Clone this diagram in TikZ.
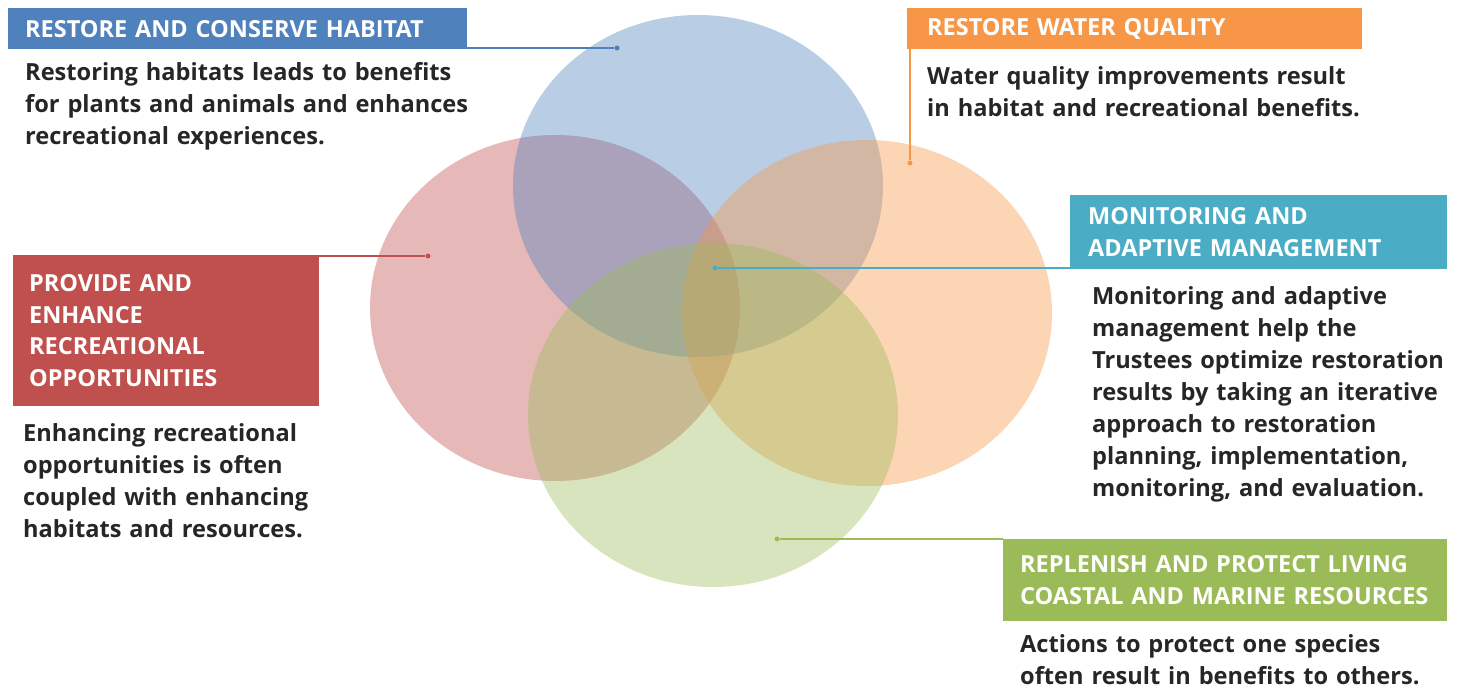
\documentclass[tikz,border=0pt]{standalone}
\usepackage{fontspec}
\setmainfont{Open Sans}
\definecolor{hblue}{HTML}{4F81BD}
\definecolor{hred}{HTML}{C0504D}
\definecolor{horange}{HTML}{F79646}
\definecolor{hgreen}{HTML}{9BBB59}
\definecolor{hteal}{HTML}{4BACC6}
\definecolor{textgray}{HTML}{262626}

\begin{document}
\begin{tikzpicture}[x=1pt,y=-1pt,
    hdr/.style={anchor=north west,fill=#1,text=white,align=left,inner ysep=0pt,
      font=\bfseries\fontsize{23.5}{31.5}\selectfont},
    txt/.style={anchor=base west,inner sep=0pt,text=textgray,align=left,text width=480pt,
      font=\bfseries\fontsize{23.6}{32}\selectfont},
    dot/.style={circle,fill=#1,inner sep=0pt,minimum size=5pt},
    blob/.style={fill=#1,fill opacity=0.4},
    link/.style={draw=#1,line width=1.4pt}]
    \useasboundingbox (0,0) rectangle (1465,687);

    % the four circles
    \fill[blob=hred] (555,308) ellipse (185 and 173);
    \fill[blob=hblue] (698,186) ellipse (185 and 171);
    \fill[blob=horange] (867,313) ellipse (185 and 173);
    \fill[blob=hgreen] (713,415) ellipse (185 and 172);

    % headings
    \node[hdr=hblue,text width=425pt,inner xsep=17pt,minimum height=41pt] (habitat) at (8,8) {RESTORE AND CONSERVE HABITAT};
    \node[hdr=horange,text width=415pt,inner xsep=20pt,minimum height=41pt] (water) at (907,8) {RESTORE WATER QUALITY};
    \node[hdr=hteal,text width=341pt,inner xsep=18pt,minimum height=74pt] (monitor) at (1070,195) {MONITORING AND\\ ADAPTIVE MANAGEMENT};
    \node[hdr=hred,text width=274pt,inner xsep=16pt,minimum height=151pt] (recreate) at (13,255) {PROVIDE AND\\ ENHANCE\\ RECREATIONAL\\ OPPORTUNITIES};
    \node[hdr=hgreen,text width=410pt,inner xsep=17pt,minimum height=82pt] (living) at (1003,539) {REPLENISH AND PROTECT LIVING\\ COASTAL AND MARINE RESOURCES};

    % descriptions
    \node[txt] (habitattxt) at (25,81) {Restoring habitats leads to benefits\\ for plants and animals and enhances\\ recreational experiences.};
    \node[txt] (watertxt) at (927,85) {Water quality improvements result\\ in habitat and recreational benefits.};
    \node[txt] (monitortxt) at (1092,305) {Monitoring and adaptive\\ management help the\\ Trustees optimize restoration\\ results by taking an iterative\\ approach to restoration\\ planning, implementation,\\ monitoring, and evaluation.};
    \node[txt] (recreatetxt) at (23,441) {Enhancing recreational\\ opportunities is often\\ coupled with enhancing\\ habitats and resources.};
    \node[txt] (livingtxt) at (1020,652) {Actions to protect one species\\ often result in benefits to others.};

    % connector dots
    \node[dot=hblue] (dhabitat) at (617,48) {};
    \node[dot=horange] (dwater) at (910,163) {};
    \node[dot=hteal] (dmonitor) at (715,268) {};
    \node[dot=hred] (drecreate) at (428,256) {};
    \node[dot=hgreen] (dliving) at (777,539) {};

    \path [link=hblue] (dhabitat) edge (dhabitat -| habitat.east);
    \path [link=horange] (dwater) edge (dwater |- water.south);
    \path [link=hteal] (dmonitor) edge (dmonitor -| monitor.west);
    \path [link=hred] (drecreate) edge (drecreate -| recreate.east);
    \path [link=hgreen] (dliving) edge (dliving -| living.west);
\end{tikzpicture}
\end{document}
